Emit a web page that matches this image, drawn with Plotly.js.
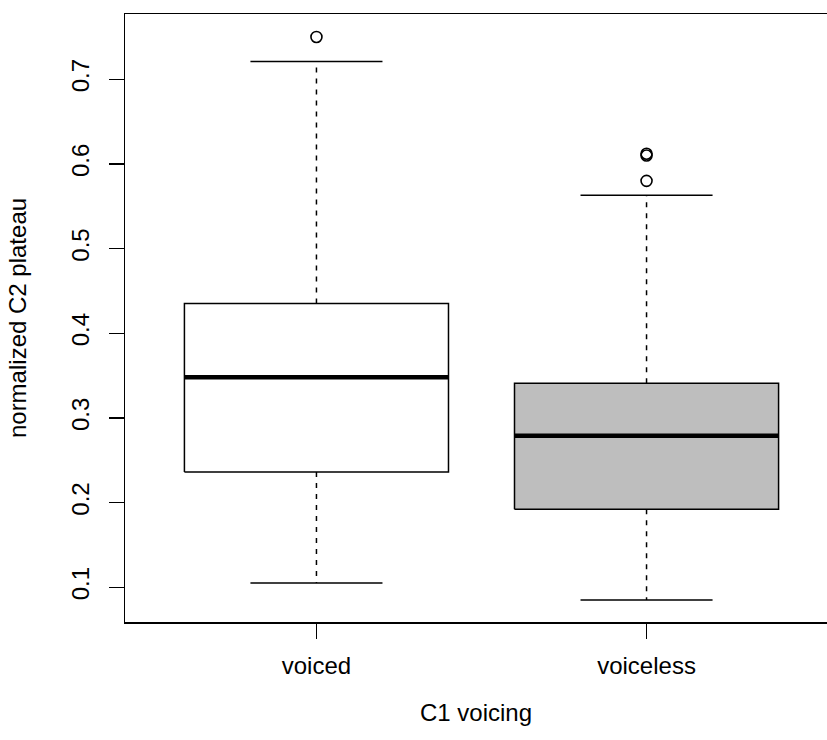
<!DOCTYPE html>
<html>
<head>
<meta charset="utf-8">
<script src="https://cdn.plot.ly/plotly-3.0.1.min.js"></script>
<style>
  html, body { margin: 0; padding: 0; background: #ffffff; overflow: hidden; }
  #chart { width: 827px; height: 740px; }
</style>
</head>
<body>
<div id="chart"></div>
<script>
// Normalized C2 plateau by C1 voicing: five-number summaries plus outliers
const categories = ['voiced', 'voiceless'];
const lowerWhisker = [0.105, 0.085];
const q1 = [0.236, 0.192];
const median = [0.348, 0.279];
const q3 = [0.435, 0.341];
const upperWhisker = [0.721, 0.563];
const outliersVoiced = [0.750];
const outliersVoiceless = [0.580, 0.610, 0.612];
const boxFills = ['#FFFFFF', '#BEBEBE'];

const yTickVals = [0.1, 0.2, 0.3, 0.4, 0.5, 0.6, 0.7];
const yTickText = ['0.1', '0.2', '0.3', '0.4', '0.5', '0.6', '0.7'];

const FONT = 'Liberation Sans, Arial, Helvetica, sans-serif';
const BOX_HALF = 0.4;     // box width 0.8 of a category slot
const STAPLE_HALF = 0.2;  // whisker caps at half the box width
const outliers = [outliersVoiced, outliersVoiceless];

const traces = [];
categories.forEach((cat, i) => {
  const x = i + 1;
  const line = { color: '#000000', width: 1.5 };
  // dashed whiskers
  traces.push({
    type: 'scatter', mode: 'lines', hoverinfo: 'skip', showlegend: false,
    x: [x, x, null, x, x],
    y: [q3[i], upperWhisker[i], null, q1[i], lowerWhisker[i]],
    line: { color: '#000000', width: 1.5, dash: '5px,6px' }
  });
  // whisker staples
  traces.push({
    type: 'scatter', mode: 'lines', hoverinfo: 'skip', showlegend: false,
    x: [x - STAPLE_HALF, x + STAPLE_HALF, null, x - STAPLE_HALF, x + STAPLE_HALF],
    y: [upperWhisker[i], upperWhisker[i], null, lowerWhisker[i], lowerWhisker[i]],
    line: line
  });
  // box from Q1 to Q3
  traces.push({
    type: 'scatter', mode: 'lines', hoverinfo: 'skip', showlegend: false,
    x: [x - BOX_HALF, x + BOX_HALF, x + BOX_HALF, x - BOX_HALF, x - BOX_HALF],
    y: [q1[i], q1[i], q3[i], q3[i], q1[i]],
    fill: 'toself', fillcolor: boxFills[i],
    line: line
  });
  // median bar
  traces.push({
    type: 'scatter', mode: 'lines', hoverinfo: 'skip', showlegend: false,
    x: [x - BOX_HALF, x + BOX_HALF],
    y: [median[i], median[i]],
    line: { color: '#000000', width: 4.5 }
  });
  // outliers
  traces.push({
    type: 'scatter', mode: 'markers', hoverinfo: 'skip', showlegend: false,
    x: outliers[i].map(() => x),
    y: outliers[i],
    marker: { symbol: 'circle-open', size: 11, color: '#000000', line: { width: 1.6, color: '#000000' } }
  });
});

const layout = {
  width: 827,
  height: 740,
  margin: { l: 125, r: 0, t: 14, b: 118 },
  paper_bgcolor: '#ffffff',
  plot_bgcolor: '#ffffff',
  font: { family: FONT, size: 24, color: '#000000' },
  showlegend: false,
  xaxis: {
    range: [0.42, 2.5467],
    tickmode: 'array',
    tickvals: [1, 2],
    ticktext: categories,
    ticks: 'outside',
    ticklen: 15,
    tickwidth: 1.4,
    tickcolor: '#000000',
    ticklabelstandoff: 7,
    showline: true,
    mirror: true,
    linecolor: '#000000',
    linewidth: 1.5,
    showgrid: false,
    zeroline: false,
    tickfont: { family: FONT, size: 24, color: '#000000' },
    title: { text: 'C1 voicing', font: { family: FONT, size: 24, color: '#000000' }, standoff: 26 }
  },
  yaxis: {
    range: [0.0589, 0.7771],
    tickmode: 'array',
    tickvals: yTickVals,
    ticktext: yTickText,
    tickangle: -90,
    ticks: 'outside',
    ticklen: 15,
    tickwidth: 1.4,
    tickcolor: '#000000',
    ticklabelstandoff: 10,
    showline: true,
    mirror: false,
    linecolor: '#000000',
    linewidth: 1.5,
    showgrid: false,
    zeroline: false,
    tickfont: { family: FONT, size: 24, color: '#000000' },
    title: { text: 'normalized C2 plateau', font: { family: FONT, size: 24, color: '#000000' }, standoff: 33 }
  }
};

Plotly.newPlot('chart', traces, layout, { staticPlot: true, displayModeBar: false });
</script>
</body>
</html>
